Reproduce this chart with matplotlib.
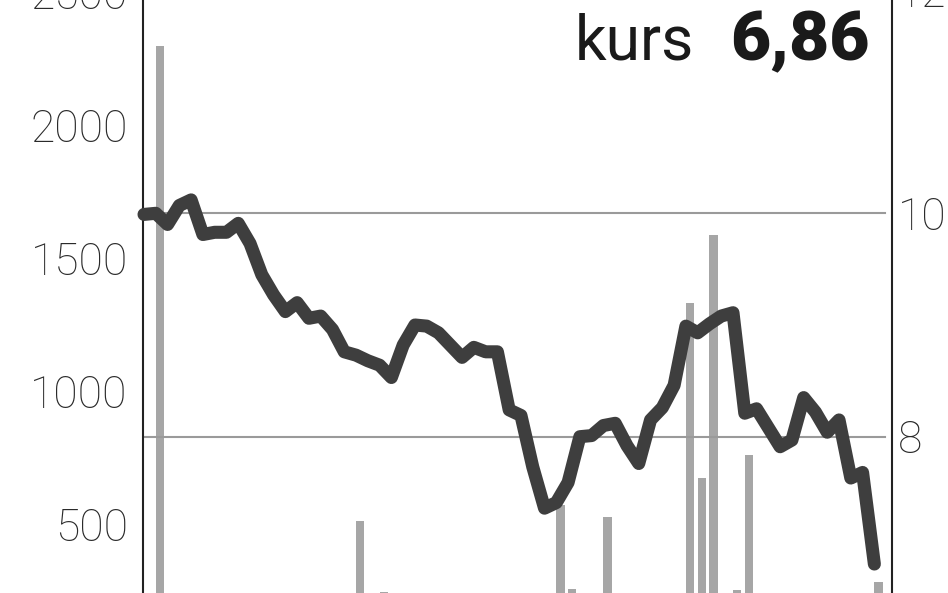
import matplotlib
matplotlib.use('Agg')
import matplotlib.pyplot as plt

plt.rcParams['font.family'] = ['Roboto', 'DejaVu Sans']

# kurs (zl), one point per session
kurs = [9.99, 10.00, 9.90, 10.07, 10.12, 9.81, 9.83, 9.83, 9.91, 9.73,
        9.45, 9.27, 9.12, 9.20, 9.06, 9.08, 8.96, 8.76, 8.73, 8.68,
        8.64, 8.53, 8.82, 9.00, 8.99, 8.93, 8.82, 8.71, 8.80, 8.76,
        8.76, 8.24, 8.19, 7.73, 7.36, 7.41, 7.59, 8.00, 8.01, 8.10,
        8.12, 7.92, 7.76, 8.15, 8.26, 8.46, 8.99, 8.93, 9.01, 9.08,
        9.11, 8.21, 8.25, 8.08, 7.91, 7.97, 8.35, 8.22, 8.04, 8.15,
        7.63, 7.68, 6.86]

# obrot (szt.), sessions with volume
vol_day = [1, 18, 20, 35, 36, 39, 43, 46, 47, 48, 50, 51, 62]
vol = [2297, 511, 244, 570, 256, 526, 240, 1331, 673, 1586, 252, 759, 282]

# only the ticks that reach into the cropped picture
left_ticks = [500, 1000, 1500, 2000, 2500]
right_ticks = [8, 10, 12]
last = '6,86'

W, H = 948, 593
top_px, bot_px = -60, 700      # axes run past the picture edges
x_left, x_right = 143, 892

fig = plt.figure(figsize=(W / 100, H / 100), dpi=100)
ax = fig.add_axes([x_left / W, 1 - bot_px / H, (x_right - x_left) / W, (bot_px - top_px) / H])

ax.bar(vol_day, vol, width=0.7, align='edge', color='#a6a6a6')
ax.set_xlim(-0.085, (x_right - 144) / 11.78)
ax.set_ylim((657 - bot_px) * 500 / 133, (657 - top_px) * 500 / 133)
ax.set_xticks([])
ax.set_yticks(left_ticks)
ax.tick_params(axis='y', length=0, pad=11, labelsize=32, labelcolor='#2a2a2a')
for lbl in ax.get_yticklabels():
    lbl.set_fontweight('light')
for s in ax.spines.values():
    s.set_visible(False)

ax2 = ax.twinx()
ax2.set_ylim(10 - (bot_px - 213.3) / 111.7, 10 + (213.3 - top_px) / 111.7)
for v in right_ticks:
    ax2.axhline(v, xmin=0, xmax=(885 - x_left) / (x_right - x_left), color='#9a9a9a', lw=1.5, zorder=1)
ax2.plot(range(len(kurs)), kurs, color='#3e3e3e', lw=9.4,
         solid_capstyle='round', solid_joinstyle='round', clip_on=False, zorder=3)
ax2.set_yticks(right_ticks)
ax2.tick_params(axis='y', length=0, pad=4, labelsize=32, labelcolor='#2a2a2a')
for lbl in ax2.get_yticklabels():
    lbl.set_fontweight('light')
for side in ['top', 'bottom']:
    ax2.spines[side].set_visible(False)
for side in ['left', 'right']:
    ax2.spines[side].set_color('#222222')
    ax2.spines[side].set_linewidth(1.5)

fig.text(870 / W, 1 - 60 / H, last, ha='right', va='baseline', fontsize=50,
         fontweight='black', color='#1a1a1a')
fig.text(694 / W, 1 - 60 / H, 'kurs', ha='right', va='baseline', fontsize=45,
         color='#1a1a1a')

fig.savefig('out.png', dpi=100)
